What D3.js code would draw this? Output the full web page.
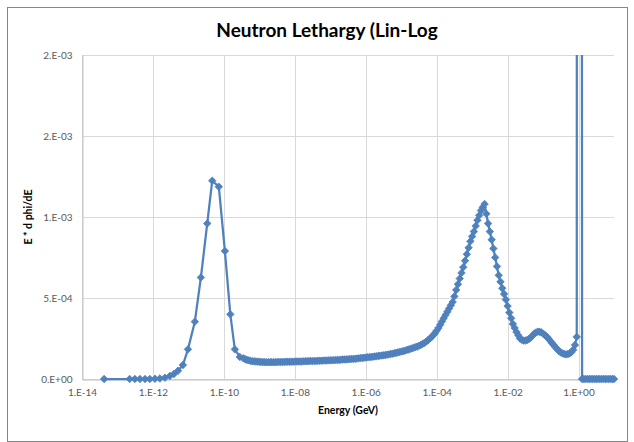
<!DOCTYPE html>
<html>
<head>
<meta charset="utf-8" />
<style>
body {
	margin: 0;
	background: #fff;
	font-family: Lato, "Open Sans", Arial;
}
svg {
	display: block;
}
.chart-title {
	font-size: 19px;
	font-weight: bold;
	text-anchor: middle;
	fill: #000;
}
.axis-title {
	font-size: 10.5px;
	font-weight: bold;
	text-anchor: middle;
	fill: #000;
}
.axis text {
	font-size: 10px;
	fill: #595959;
	font-family: Lato, "Open Sans", Arial;
}
.grid line {
	stroke: #d9d9d9;
	stroke-width: 1;
}
.series {
	fill: none;
	stroke: #4f81bd;
	stroke-width: 2.25;
	stroke-linejoin: round;
}
.marker {
	fill: #4f81bd;
	stroke: #4f81bd;
	stroke-width: 0.75;
}
</style>
</head>
<body>
<script src="https://d3js.org/d3.v7.min.js"></script>
<script>
// energy (GeV)
var energy = [4.2e-14, 2.2e-13, 3.1e-13, 4.3e-13, 6.0e-13, 8.2e-13,
    1.14e-12, 1.57e-12, 2.18e-12, 3.0e-12, 3.9e-12, 5.1e-12, 7.0e-12, 9.7e-12,
    1.52e-11, 2.25e-11, 3.4e-11, 4.7e-11, 7.2e-11,
    1.07e-10, 1.52e-10, 2.04e-10, 2.82e-10,
    3.55e-10, 3.98e-10, 4.47e-10, 5.01e-10, 5.62e-10, 6.31e-10, 7.08e-10, 7.94e-10, 8.91e-10,
    1.0e-9, 1.12e-9, 1.26e-9, 1.41e-9, 1.58e-9, 1.78e-9, 2.0e-9, 2.24e-9, 2.51e-9, 2.82e-9,
    3.16e-9, 3.55e-9, 3.98e-9, 4.47e-9, 5.01e-9, 5.62e-9, 6.31e-9, 7.08e-9, 7.94e-9, 8.91e-9,
    1.0e-8, 1.12e-8, 1.26e-8, 1.41e-8, 1.58e-8, 1.78e-8, 2.0e-8, 2.24e-8, 2.51e-8, 2.82e-8,
    3.16e-8, 3.55e-8, 3.98e-8, 4.47e-8, 5.01e-8, 5.62e-8, 6.31e-8, 7.08e-8, 7.94e-8, 8.91e-8,
    1.0e-7, 1.12e-7, 1.26e-7, 1.41e-7, 1.58e-7, 1.78e-7, 2.0e-7, 2.24e-7, 2.51e-7, 2.82e-7,
    3.16e-7, 3.55e-7, 3.98e-7, 4.47e-7, 5.01e-7, 5.62e-7, 6.31e-7, 7.08e-7, 7.94e-7, 8.91e-7,
    1.0e-6, 1.12e-6, 1.26e-6, 1.41e-6, 1.58e-6, 1.78e-6, 2.0e-6, 2.24e-6, 2.51e-6, 2.82e-6,
    3.16e-6, 3.55e-6, 3.98e-6, 4.47e-6, 5.01e-6, 5.62e-6, 6.31e-6, 7.08e-6, 7.94e-6, 8.91e-6,
    1.0e-5, 1.12e-5, 1.26e-5, 1.41e-5, 1.58e-5, 1.78e-5, 2.0e-5, 2.24e-5, 2.51e-5, 2.82e-5,
    3.16e-5, 3.55e-5, 3.98e-5, 4.47e-5, 5.01e-5, 5.62e-5, 6.31e-5, 7.08e-5, 7.94e-5, 8.91e-5,
    1.0e-4, 1.12e-4, 1.26e-4, 1.41e-4, 1.58e-4, 1.78e-4, 2.0e-4, 2.24e-4, 2.51e-4, 2.82e-4,
    3.16e-4, 3.55e-4, 3.98e-4, 4.47e-4, 5.01e-4, 5.62e-4, 6.31e-4, 7.08e-4, 7.94e-4, 8.91e-4,
    1.0e-3, 1.12e-3, 1.26e-3, 1.41e-3, 1.58e-3, 1.78e-3, 2.0e-3, 2.24e-3, 2.51e-3, 2.82e-3,
    3.16e-3, 3.55e-3, 3.98e-3, 4.47e-3, 5.01e-3, 5.62e-3, 6.31e-3, 7.08e-3, 7.94e-3, 8.91e-3,
    1.0e-2, 1.12e-2, 1.26e-2, 1.41e-2, 1.58e-2, 1.78e-2, 2.0e-2, 2.24e-2, 2.51e-2, 2.82e-2,
    3.16e-2, 3.55e-2, 3.98e-2, 4.47e-2, 5.01e-2, 5.62e-2, 6.31e-2, 7.08e-2, 7.94e-2, 8.91e-2,
    1.0e-1, 1.12e-1, 1.26e-1, 1.41e-1, 1.58e-1, 1.78e-1, 2.0e-1, 2.24e-1, 2.51e-1, 2.82e-1,
    3.16e-1, 3.55e-1, 3.98e-1, 4.47e-1, 5.01e-1, 5.62e-1, 6.31e-1, 7.08e-1, 7.94e-1, 8.91e-1,
    1.0,
    1.26, 1.41, 1.58, 1.78, 2.0, 2.24, 2.51, 2.82,
    3.16, 3.55, 3.98, 4.47, 5.01, 5.62, 6.31, 7.08, 7.94, 8.91, 10.0];

// E * d phi/dE
var lethargy = [0, 0, 0, 0, 0, 0,
    1e-6, 3e-6, 8e-6, 1.9e-5, 3.1e-5, 5.1e-5, 8.6e-5, 1.83e-4,
    3.54e-4, 6.27e-4, 9.6e-4, 1.224e-3, 1.187e-3,
    7.9e-4, 3.99e-4, 1.83e-4, 1.36e-4,
    1.28e-4, 1.22e-4, 1.18e-4, 1.15e-4, 1.12e-4, 1.10e-4, 1.09e-4, 1.08e-4, 1.07e-4,
    1.06e-4, 1.05e-4, 1.045e-4, 1.04e-4, 1.04e-4, 1.04e-4, 1.04e-4, 1.04e-4, 1.04e-4, 1.04e-4,
    1.045e-4, 1.05e-4, 1.05e-4, 1.05e-4, 1.055e-4, 1.06e-4, 1.06e-4, 1.06e-4, 1.065e-4, 1.07e-4,
    1.075e-4, 1.08e-4, 1.08e-4, 1.08e-4, 1.085e-4, 1.09e-4, 1.095e-4, 1.10e-4, 1.105e-4, 1.11e-4,
    1.11e-4, 1.11e-4, 1.115e-4, 1.12e-4, 1.125e-4, 1.13e-4, 1.135e-4, 1.14e-4, 1.145e-4, 1.15e-4,
    1.155e-4, 1.16e-4, 1.165e-4, 1.17e-4, 1.175e-4, 1.18e-4, 1.19e-4, 1.20e-4, 1.205e-4, 1.21e-4,
    1.22e-4, 1.23e-4, 1.235e-4, 1.24e-4, 1.25e-4, 1.26e-4, 1.275e-4, 1.29e-4, 1.30e-4, 1.31e-4,
    1.325e-4, 1.34e-4, 1.35e-4, 1.36e-4, 1.375e-4, 1.39e-4, 1.405e-4, 1.42e-4, 1.435e-4, 1.45e-4,
    1.465e-4, 1.48e-4, 1.50e-4, 1.52e-4, 1.54e-4, 1.56e-4, 1.585e-4, 1.61e-4, 1.635e-4, 1.66e-4,
    1.69e-4, 1.72e-4, 1.75e-4, 1.78e-4, 1.815e-4, 1.85e-4, 1.89e-4, 1.93e-4, 1.965e-4, 2.00e-4,
    2.05e-4, 2.10e-4, 2.16e-4, 2.22e-4, 2.30e-4, 2.38e-4, 2.48e-4, 2.58e-4, 2.70e-4, 2.82e-4,
    2.98e-4, 3.15e-4, 3.35e-4, 3.55e-4, 3.75e-4, 3.95e-4, 4.15e-4, 4.35e-4, 4.55e-4, 4.75e-4,
    5.1e-4, 5.5e-4, 5.85e-4, 6.2e-4, 6.55e-4, 6.9e-4, 7.3e-4, 7.7e-4, 8.1e-4, 8.5e-4,
    8.8e-4, 9.1e-4, 9.45e-4, 9.8e-4, 1.01e-3, 1.04e-3, 1.06e-3, 1.08e-3, 1.02e-3, 9.6e-4,
    9.1e-4, 8.6e-4, 8.05e-4, 7.5e-4, 6.95e-4, 6.4e-4, 6.0e-4, 5.6e-4, 5.25e-4, 4.9e-4,
    4.5e-4, 4.1e-4, 3.75e-4, 3.4e-4, 3.15e-4, 2.9e-4, 2.7e-4, 2.5e-4, 2.42e-4, 2.37e-4,
    2.37e-4, 2.4e-4, 2.47e-4, 2.55e-4, 2.67e-4, 2.8e-4, 2.87e-4, 2.92e-4, 2.91e-4, 2.88e-4,
    2.8e-4, 2.72e-4, 2.62e-4, 2.5e-4, 2.36e-4, 2.22e-4, 2.09e-4, 1.96e-4, 1.84e-4, 1.72e-4,
    1.64e-4, 1.58e-4, 1.54e-4, 1.52e-4, 1.54e-4, 1.58e-4, 1.66e-4, 1.8e-4, 2.1e-4, 2.6e-4,
    5e-2,
    0, 0, 0, 0, 0, 0, 0, 0,
    0, 0, 0, 0, 0, 0, 0, 0, 0, 0, 0];

var xTickValues = [1e-14, 1e-12, 1e-10, 1e-8, 1e-6, 1e-4, 1e-2, 1e0];
var xTickLabels = ["1.E-14", "1.E-12", "1.E-10", "1.E-08", "1.E-06", "1.E-04", "1.E-02", "1.E+00"];
var yTickValues = [0, 0.0005, 0.001, 0.0015, 0.002];
var yTickLabels = ["0.E+00", "5.E-04", "1.E-03", "2.E-03", "2.E-03"];

var width = 634,
    height = 442;

var plot = {left: 82, top: 55, right: 614, bottom: 379};

var data = energy.map(function(e, i) { return {e: e, v: lethargy[i]}; });

var x = d3.scaleLog()
	.domain([1e-14, 10])
	.range([plot.left, plot.right]);

var y = d3.scaleLinear()
	.domain([0, 0.002])
	.range([plot.bottom, plot.top]);

var svg = d3.select("body").append("svg")
	.attr("width", width)
	.attr("height", height);

// chart border
svg.append("rect")
	.attr("x", 7.5)
	.attr("y", 7.5)
	.attr("width", 620)
	.attr("height", 434)
	.attr("fill", "#fff")
	.attr("stroke", "#868686")
	.attr("stroke-width", 1);

svg.append("text")
	.attr("class", "chart-title")
	.attr("x", 327)
	.attr("y", 37)
	.text("Neutron Lethargy (Lin-Log");

// gridlines
var grid = svg.append("g").attr("class", "grid");

grid.selectAll(".hgrid")
	.data(yTickValues)
	.enter().append("line")
		.attr("x1", plot.left)
		.attr("x2", plot.right)
		.attr("y1", function(d) { return Math.round(y(d)) + 0.5; })
		.attr("y2", function(d) { return Math.round(y(d)) + 0.5; });

grid.selectAll(".vgrid")
	.data(xTickValues)
	.enter().append("line")
		.attr("x1", function(d) { return Math.round(x(d)) + 0.5; })
		.attr("x2", function(d) { return Math.round(x(d)) + 0.5; })
		.attr("y1", plot.top)
		.attr("y2", plot.bottom);

// axes
var xAxis = d3.axisBottom(x)
	.tickValues(xTickValues)
	.tickFormat(function(d, i) { return xTickLabels[i]; })
	.tickSize(0)
	.tickPadding(9);

var yAxis = d3.axisLeft(y)
	.tickValues(yTickValues)
	.tickFormat(function(d, i) { return yTickLabels[i]; })
	.tickSize(0)
	.tickPadding(10);

svg.append("g")
	.attr("class", "axis")
	.attr("transform", "translate(0," + (plot.bottom + 0.5) + ")")
	.call(xAxis)
	.call(function(g) { g.select(".domain").attr("stroke", "#bfbfbf"); });

svg.append("g")
	.attr("class", "axis")
	.attr("transform", "translate(" + (plot.left + 0.5) + ",0)")
	.call(yAxis)
	.call(function(g) { g.select(".domain").attr("stroke", "#bfbfbf"); });

// axis titles
svg.append("text")
	.attr("class", "axis-title")
	.attr("x", (plot.left + plot.right) / 2)
	.attr("y", 414)
	.text("Energy (GeV)");

svg.append("text")
	.attr("class", "axis-title")
	.attr("transform", "translate(32," + ((plot.top + plot.bottom) / 2) + ") rotate(-90)")
	.text("E * d phi/dE");

// series
svg.append("clipPath")
	.attr("id", "plot-clip")
	.append("rect")
		.attr("x", plot.left)
		.attr("y", plot.top)
		.attr("width", plot.right - plot.left + 5)
		.attr("height", plot.bottom - plot.top + 5);

var line = d3.line()
	.x(function(d) { return x(d.e); })
	.y(function(d) { return y(d.v); });

svg.append("path")
	.datum(data)
	.attr("class", "series")
	.attr("clip-path", "url(#plot-clip)")
	.attr("d", line);

var diamond = d3.symbol().type(d3.symbolSquare).size(28);

svg.append("g")
	.selectAll("path")
	.data(data.filter(function(d) { return d.v <= 0.002; }))
	.enter().append("path")
		.attr("class", "marker")
		.attr("transform", function(d) { return "translate(" + x(d.e) + "," + y(d.v) + ") rotate(45)"; })
		.attr("d", diamond);
</script>
</body>
</html>
